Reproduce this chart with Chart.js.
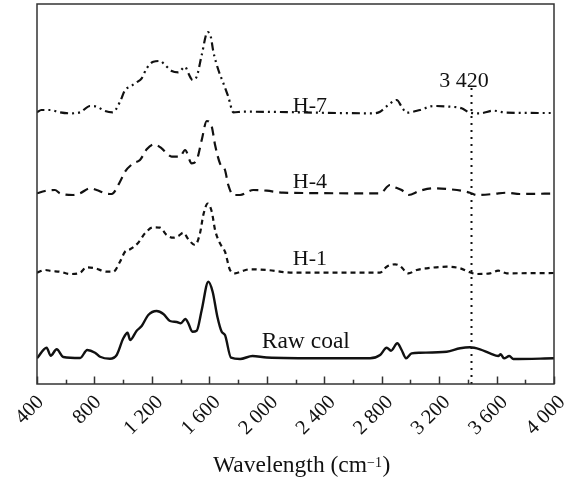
<!DOCTYPE html>
<html><head><meta charset="utf-8">
<script src="https://cdn.jsdelivr.net/npm/chart.js@4"></script>
<style>html,body{margin:0;padding:0;background:#fff}canvas{display:block}</style>
</head><body>
<canvas id="c" width="574" height="479"></canvas>
<script>
// ---- data (wavenumber in cm^-1, absorbance in arbitrary offset units) ----
const tickValues = [400, 800, 1200, 1600, 2000, 2400, 2800, 3200, 3600, 4000];
const tickLabels = ['400', '800', '1 200', '1 600', '2 000', '2 400', '2 800', '3 200', '3 600', '4 000'];
const seriesNames = ['Raw coal', 'H-1', 'H-4', 'H-7'];
const markerWavenumber = 3420;
const markerLabel = '3 420';
const axisTitle = 'Wavelength (cm';
const axisTitleSup = '\u22121';

const rawX = [400,467,495,537,583,700,750,804,839,908,955,1001,1031,1048,1094,1129,1175,1233,1280,1326,1373,1401,1433,1454,1482,1512,1547,1593,1623,1656,1686,1709,1751,1814,1900,2000,2400,2719,2789,2835,2865,2909,2939,2970,3009,3067,3253,3346,3415,3485,3555,3612,3629,3652,3689,3717,4000];
const rawY = [25.7,36.3,28.3,34.7,27,26,34,31.3,27.3,25.3,29,45.7,51.3,44,53.3,58,69,73,70,63,62,60.7,65,60.7,52.3,53.3,74,102.3,92.3,67.3,52.3,49,26.3,25,28,26.5,25.7,25.7,29,36.3,33.3,40.7,34,25.7,30.7,31.3,32.3,35.7,36.7,34.7,30.7,28,29.7,25.7,28,25,25.7];

const h1X = [400,456,500,560,630,700,746,804,885,931,978,1013,1048,1105,1152,1210,1257,1303,1349,1384,1419,1454,1500,1535,1558,1589,1617,1640,1674,1709,1744,1779,1837,1883,2000,2183,2789,2835,2893,2928,2986,3044,3114,3253,3346,3415,3462,3555,3612,3671,4000];
const h1Y = [111.3,114,113,112.3,110,111.3,116.7,115.7,112.3,112.3,122.3,132.3,134.7,141.3,150.7,156.7,156.3,149,146.3,148,151.3,144.7,139,150.7,169,180.5,172.3,154,140.7,132.3,114,110.7,113.3,114.7,114,111.3,111.3,117.3,119.7,118,110.7,114,115.7,117.3,115.7,111.7,110,110.7,113.3,110.7,111];

const h4X = [400,456,525,560,653,700,769,815,874,920,978,1013,1071,1117,1164,1215,1268,1303,1338,1396,1431,1477,1512,1547,1582,1617,1640,1674,1709,1732,1767,1814,1906,2000,2113,2789,2858,2893,2939,2986,3067,3160,3276,3357,3415,3462,3578,3671,3763,4000];
const h4Y = [190.7,193,194,190.7,189,190.7,195.7,194,190.7,190,202.3,212.3,220.7,224,234.7,239.7,235.7,230.7,227.3,227.3,234,220.7,224,244,263,257.3,239,220.7,214,199,189,189,194,193.3,191.3,190.7,199,196.7,194,189,193.3,195.7,194.7,193.3,191.3,189,190,191.3,190,190.5];

const h7X = [400,430,490,560,630,700,769,815,874,927,978,1013,1048,1094,1129,1164,1210,1257,1291,1338,1384,1431,1454,1484,1512,1547,1588,1610,1628,1663,1698,1732,1767,1837,2740,2789,2846,2905,2939,2974,3067,3160,3276,3357,3415,3485,3578,3671,4000];
const h7Y = [271.7,274,274,271.7,270.7,271.7,278,277.3,273,271.7,282.3,294,297.3,301.7,305.7,315.7,322.3,323,319,313,311.7,317.3,310.7,304,307.3,329,352,347.3,332.3,314,300.7,287.3,271.7,272.3,270.7,272.3,279,284,277.3,271.3,274,278,277.3,275.7,271.3,270.7,273.3,271.3,271];

const pts = (xs, ys) => xs.map((x, i) => ({ x: x, y: ys[i] }));
const FONT = "'Liberation Serif', 'Times New Roman', serif";
const INK = '#111';

const deco = {
  id: 'deco',
  afterDraw(chart) {
    const { ctx, chartArea: a, scales: { x, y } } = chart;
    ctx.save();
    // marker line at 3420
    const mx = Math.round(x.getPixelForValue(markerWavenumber)) + 0.5;
    ctx.strokeStyle = INK; ctx.lineWidth = 2; ctx.setLineDash([2, 5]);
    ctx.beginPath(); ctx.moveTo(mx, y.getPixelForValue(296)); ctx.lineTo(mx, a.bottom); ctx.stroke();
    ctx.setLineDash([]);
    // frame
    ctx.strokeStyle = '#333'; ctx.lineWidth = 1.5;
    ctx.strokeRect(a.left, a.top, a.right - a.left, a.bottom - a.top);
    // inward ticks (major every 400, minor in between)
    for (let i = 0; i < tickValues.length; i++) {
      const v = tickValues[i];
      const px = Math.round(x.getPixelForValue(v)) + 0.5;
      ctx.beginPath(); ctx.moveTo(px, a.bottom); ctx.lineTo(px, a.bottom - 7.5); ctx.stroke();
      if (i < tickValues.length - 1) {
        const mv = (v + tickValues[i + 1]) / 2;
        const mp = Math.round(x.getPixelForValue(mv)) + 0.5;
        ctx.beginPath(); ctx.moveTo(mp, a.bottom); ctx.lineTo(mp, a.bottom - 4.3); ctx.stroke();
      }
    }
    // rotated tick labels
    ctx.fillStyle = INK;
    ctx.font = '20.5px ' + FONT;
    ctx.textAlign = 'right'; ctx.textBaseline = 'alphabetic';
    const k = Math.SQRT1_2;
    for (let i = 0; i < tickValues.length; i++) {
      const lbl = tickLabels[i];
      const m = ctx.measureText(lbl);
      const w = m.width, asc = m.actualBoundingBoxAscent, desc = m.actualBoundingBoxDescent;
      const right = x.getPixelForValue(tickValues[i]) - 1.5 + 0.292 * w;
      const X = right - k * desc;
      const Y = a.bottom + 9 + k * asc;
      ctx.save(); ctx.translate(X, Y); ctx.rotate(-Math.PI / 4); ctx.fillText(lbl, 0, 0); ctx.restore();
    }
    // text labels
    ctx.textAlign = 'left'; ctx.textBaseline = 'alphabetic';
    ctx.font = '23.5px ' + FONT;
    ctx.fillText(seriesNames[0], x.getPixelForValue(1965), y.getPixelForValue(36.3));
    ctx.font = '22px ' + FONT;
    ctx.fillText(seriesNames[1], x.getPixelForValue(2181), y.getPixelForValue(119));
    ctx.fillText(seriesNames[2], x.getPixelForValue(2181), y.getPixelForValue(195.7));
    ctx.fillText(seriesNames[3], x.getPixelForValue(2181), y.getPixelForValue(272.3));
    ctx.fillText(markerLabel, x.getPixelForValue(3201), y.getPixelForValue(297.3));
    // axis title
    const tx = 213, ty = 471.5;
    ctx.font = '23.5px ' + FONT;
    ctx.fillText(axisTitle, tx, ty);
    let cx = tx + ctx.measureText(axisTitle).width;
    ctx.font = '14px ' + FONT;
    ctx.fillText(axisTitleSup, cx, ty - 5);
    cx += ctx.measureText(axisTitleSup).width + 0.5;
    ctx.font = '23.5px ' + FONT;
    ctx.fillText(')', cx, ty);
    ctx.restore();
  }
};

const mk = (xs, ys, dash, w) => ({
  data: pts(xs, ys), borderColor: INK, borderWidth: w, borderDash: dash,
  pointRadius: 0, fill: false, cubicInterpolationMode: 'monotone'
});

new Chart(document.getElementById('c'), {
  type: 'line',
  data: {
    datasets: [
      mk(rawX, rawY, [], 2.4),
      mk(h1X, h1Y, [5, 4], 2.2),
      mk(h4X, h4Y, [9, 6], 2.2),
      mk(h7X, h7Y, [8, 4, 2, 4, 2, 4], 2.2)
    ]
  },
  options: {
    responsive: false, animation: false, devicePixelRatio: 1,
    layout: { padding: { left: 37, right: 20, top: 4, bottom: 0 } },
    plugins: { legend: { display: false }, tooltip: { enabled: false } },
    scales: {
      x: {
        type: 'linear', min: 400, max: 4000,
        afterBuildTicks: (s) => { s.ticks = tickValues.map(v => ({ value: v })); },
        afterFit: (s) => { s.height = 95; },
        grid: { display: false, drawTicks: false },
        border: { display: false },
        ticks: { display: false }
      },
      y: { type: 'linear', min: 0, max: 380, display: false }
    }
  },
  plugins: [deco]
});
</script>
</body></html>
